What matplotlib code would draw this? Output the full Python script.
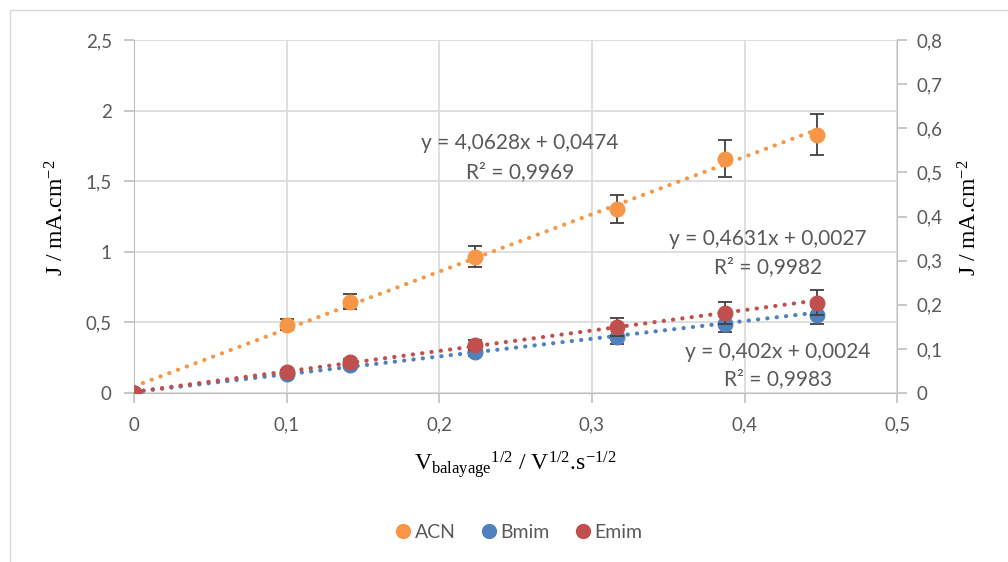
import matplotlib.pyplot as plt
import matplotlib.ticker as mtick
import matplotlib.patches as mpatches
import numpy as np

# racine de la vitesse de balayage
x_vals = [0, 0.1, 0.1414, 0.2236, 0.3162, 0.3873, 0.4472]

# ACN sur l'axe de gauche
acn = [0, 0.485, 0.648, 0.965, 1.305, 1.660, 1.830]
acn_err = [0, 0.04, 0.055, 0.075, 0.10, 0.13, 0.145]

# Bmim et Emim sur l'axe de droite
bmim = [0, 0.042, 0.063, 0.093, 0.128, 0.157, 0.177]
bmim_err = [0, 0.004, 0.006, 0.010, 0.016, 0.018, 0.020]
emim = [0, 0.048, 0.070, 0.109, 0.150, 0.182, 0.205]
emim_err = [0, 0.005, 0.007, 0.012, 0.020, 0.025, 0.028]

# droites de tendance (pente, ordonnee) et R2
pentes = [4.0628, 0.402, 0.4631]
ordonnees = [0.0474, 0.0024, 0.0027]
r2 = [0.9969, 0.9983, 0.9982]

series = ['ACN', 'Bmim', 'Emim']
couleurs = ['#F79646', '#4F81BD', '#C0504D']

plt.rcParams['font.family'] = ['Lato', 'DejaVu Sans']
plt.rcParams['mathtext.default'] = 'regular'

gris = '#595959'
axe_gris = '#BFBFBF'

fig = plt.figure(figsize=(10.08, 5.62), dpi=100)
ax = fig.add_axes([0.133, 0.3007, 0.757, 0.6281])
ax2 = ax.twinx()

fig.patches.append(mpatches.Rectangle((10 / 1008, -0.01), 1.0, 1 - 10 / 562 + 0.01,
                                      transform=fig.transFigure, fill=False,
                                      edgecolor='#D9D9D9', linewidth=1.0))

ax.set_xlim(0, 0.5)
ax.set_ylim(0, 2.5)
ax2.set_ylim(0, 0.8)

ax.xaxis.set_major_locator(mtick.MultipleLocator(0.1))
ax.yaxis.set_major_locator(mtick.MultipleLocator(0.5))
ax2.yaxis.set_major_locator(mtick.MultipleLocator(0.1))

def virgule(v, pos):
    s = '{:g}'.format(round(v, 3))
    return s.replace('.', ',')

for a in (ax, ax2):
    a.yaxis.set_major_formatter(mtick.FuncFormatter(virgule))
ax.xaxis.set_major_formatter(mtick.FuncFormatter(virgule))

ax.grid(True, color='#D9D9D9', linewidth=1.2)
ax.set_axisbelow(True)

for a in (ax, ax2):
    for sp in a.spines.values():
        sp.set_visible(False)
ax.spines['left'].set_visible(True)
ax.spines['left'].set_color(axe_gris)
ax.spines['bottom'].set_visible(True)
ax.spines['bottom'].set_color(axe_gris)
ax2.spines['right'].set_visible(True)
ax2.spines['right'].set_color(axe_gris)

ax.tick_params(axis='both', colors=axe_gris, labelcolor=gris, labelsize=13.5, length=7, width=1.2)
ax.tick_params(axis='x', pad=10)
ax.tick_params(axis='y', pad=9)
ax2.tick_params(axis='y', colors=axe_gris, labelcolor=gris, labelsize=13.5, length=7, width=1.2, pad=7)

# droites de tendance
xt = np.array([0, x_vals[-1]])
axes_serie = [ax, ax2, ax2]
for i in range(3):
    axes_serie[i].plot(xt, pentes[i] * xt + ordonnees[i], linestyle=(0, (0.05, 2.2)),
                       dash_capstyle='round', color=couleurs[i], linewidth=3.0, zorder=2)

# points et barres d'erreur
ax.errorbar(x_vals, acn, yerr=acn_err, fmt='o', color=couleurs[0], markersize=10.5,
            ecolor='#404040', elinewidth=1.3, capsize=5, capthick=1.3, zorder=3)
ax2.errorbar(x_vals, bmim, yerr=bmim_err, fmt='o', color=couleurs[1], markersize=10.5,
             ecolor='#404040', elinewidth=1.3, capsize=5, capthick=1.3, zorder=3)
ax2.errorbar(x_vals, emim, yerr=emim_err, fmt='o', color=couleurs[2], markersize=10.5,
             ecolor='#404040', elinewidth=1.3, capsize=5, capthick=1.3, zorder=4)

# equations
def fmt_num(v):
    return '{:g}'.format(v).replace('.', ',')

positions = [(520, 143, 172), (778, 352, 379), (768, 239, 267)]
for i in range(3):
    px, py1, py2 = positions[i]
    fig.text(px / 1008, 1 - py1 / 562, 'y = {}x + {}'.format(fmt_num(pentes[i]), fmt_num(ordonnees[i])),
             ha='center', va='center', color=gris, fontsize=15)
    fig.text(px / 1008, 1 - py2 / 562, 'R² = {}'.format(fmt_num(r2[i])),
             ha='center', va='center', color=gris, fontsize=15)

# titres des axes
serif = ['Liberation Serif', 'DejaVu Serif']
fig.text(57 / 1008, 1 - 218 / 562, 'J / mA.cm$^{-2}$', rotation=90,
         ha='center', va='center', fontsize=17, color='black', family=serif)
fig.text(970 / 1008, 1 - 218 / 562, 'J / mA.cm$^{-2}$', rotation=90,
         ha='center', va='center', fontsize=17, color='black', family=serif)
fig.text(515 / 1008, 1 - 464 / 562, 'V$_{balayage}$$^{1/2}$ / V$^{1/2}$.s$^{-1/2}$',
         ha='center', va='center', fontsize=17, color='black', family=serif)

# legende
poignees = [plt.Line2D([], [], marker='o', linestyle='none', color=c, markersize=10) for c in couleurs]
fig.legend(poignees, series, loc='center', bbox_to_anchor=(518 / 1008, 1 - 532 / 562), ncol=3,
           frameon=False, fontsize=14, labelcolor=gris, handletextpad=0.1, columnspacing=1.2,
           handlelength=1.0)

fig.savefig('out.png', dpi=100)
